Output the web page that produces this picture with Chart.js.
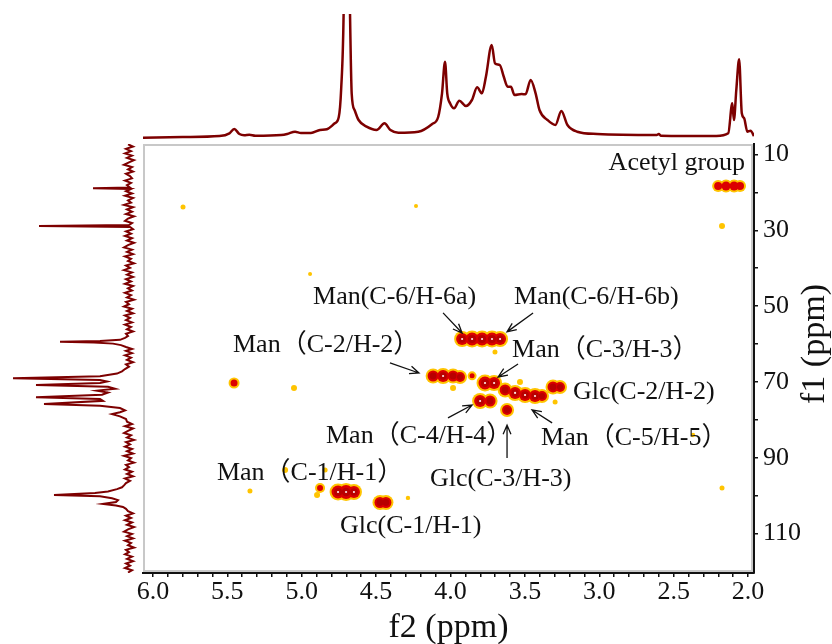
<!DOCTYPE html>
<html lang="en">
<head>
<meta charset="UTF-8">
<title>HSQC spectrum</title>
<script src="https://cdn.jsdelivr.net/npm/chart.js@4.4.1/dist/chart.umd.min.js"></script>
<style>
    body { margin: 0; background: #fff; }
    #wrap { position: relative; width: 832px; height: 644px; overflow: hidden; }
    canvas { position: absolute; }
</style>
</head>
<body>
<div id="wrap">
    <canvas id="top-chart" width="611" height="126" style="left:143px;top:14px"></canvas>
    <canvas id="side-chart" width="140" height="429" style="left:0;top:144px"></canvas>
    <canvas id="main-chart" width="832" height="644" style="left:0;top:0"></canvas>
</div>
<script>
// axis limits (ppm)
const f2Min = 1.96, f2Max = 6.067;
const f1Min = 7.23, f1Max = 120.42;

// tick values
const f2Ticks = [6.0,5.9,5.8,5.7,5.6,5.5,5.4,5.3,5.2,5.1,5.0,4.9,4.8,4.7,4.6,4.5,4.4,4.3,4.2,4.1,4.0,
                 3.9,3.8,3.7,3.6,3.5,3.4,3.3,3.2,3.1,3.0,2.9,2.8,2.7,2.6,2.5,2.4,2.3,2.2,2.1,2.0];
const f2Labels = [6.0,5.5,5.0,4.5,4.0,3.5,3.0,2.5,2.0];
const f1Ticks = [10,20,30,40,50,60,70,80,90,100,110];
const f1Labels = [10,30,50,70,90,110];

// 1H projection: [ppm, intensity]
const protonTrace = [
    [6.067,1.2],[5.80,2],[5.553,3],[5.486,5.7],[5.454,10],[5.419,5],[5.387,3.7],[5.352,4.3],[5.312,3.3],
    [5.138,4],[5.098,5],[5.045,7.3],[5.005,6],[4.938,6],[4.877,9],[4.831,9.7],[4.778,15.7],[4.751,22],
    [4.735,50],[4.718,130],[4.700,400],[4.676,130],[4.664,45],[4.645,29],[4.618,19],[4.564,12.3],
    [4.497,9],[4.444,15.7],[4.404,9],[4.351,6.3],[4.217,7.3],[4.123,15],[4.083,22],[4.057,45.7],
    [4.037,77.3],[4.022,45.7],[4.003,35.7],[3.976,30.7],[3.941,38.3],[3.896,33],[3.856,39],[3.821,51.7],
    [3.789,45.7],[3.762,62.3],[3.723,94],[3.701,75.7],[3.669,74],[3.642,62.3],[3.616,52.3],[3.594,52.3],
    [3.570,44],[3.522,45],[3.496,44.7],[3.461,59],[3.428,45.7],[3.402,29],[3.348,19],[3.295,14],
    [3.255,28],[3.214,14],[3.148,7.3],[3.014,5],[2.614,4],[2.600,5],[2.587,3.3],[2.213,3],[2.133,5.7],
    [2.106,35.7],[2.095,19],[2.079,49],[2.060,79.7],[2.042,25.7],[2.026,20.7],[2.005,7.3],[1.983,8.3],[1.96,3]
];

// 13C projection: [ppm, intensity]
const carbonTrace = [
    [7.3,2],[7.9,-3],[8.5,4],[9.1,-1],[9.7,5],[10.3,-2],[10.9,3],[11.5,-4],[12.1,1],[12.7,6],[13.3,-2],
    [13.9,2],[14.5,-3],[15.1,4],[15.7,0],[16.3,-2],[16.9,5],[17.5,-1],[18.1,3],[18.7,0],[18.9,37],[19.1,-1],
    [19.7,4],[20.3,-2],[20.9,5],[21.5,-3],[22.1,2],[22.7,-1],[23.3,6],[23.9,-3],[24.5,3],[25.1,-2],[25.7,4],
    [26.3,-4],[26.9,2],[27.5,5],[28.1,-2],[28.6,1],[28.86,91],[29.1,0],[29.7,-3],[30.3,4],[30.9,-1],[31.5,5],
    [32.1,-2],[32.7,3],[33.3,-4],[33.9,2],[34.5,6],[35.1,-2],[35.7,3],[36.3,-3],[36.9,5],[37.5,-1],[38.1,2],
    [38.7,-4],[39.3,4],[39.9,0],[40.5,6],[41.1,-2],[41.7,3],[42.3,-3],[42.9,4],[43.5,-1],[44.1,5],[44.7,-3],
    [45.3,2],[45.9,-2],[46.5,5],[47.1,-1],[47.7,3],[48.3,-4],[48.9,4],[49.5,1],[50.1,6],[50.7,-2],[51.3,3],
    [51.9,-3],[52.5,5],[53.1,0],[53.7,4],[54.3,-2],[54.9,5],[55.5,-1],[56.1,3],[56.7,-3],[57.3,4],[57.9,2],
    [58.4,5],[58.9,10],[59.2,30],[59.4,70],[59.6,36],[59.9,17],[60.3,9],[60.8,4],[61.3,-2],[61.8,4],[62.4,-2],
    [63.0,5],[63.6,-1],[64.2,3],[64.8,-3],[65.4,4],[66.0,1],[66.6,5],[67.2,8],[67.8,13],[68.5,30],[69.05,117],
    [69.5,30],[69.9,23],[70.3,30],[70.82,94],[71.3,22],[71.8,15],[72.3,33],[72.8,22],[73.4,28],[74.06,94],
    [74.5,30],[75.0,27],[75.8,86],[76.3,30],[76.9,10],[77.5,5],[78.0,10],[78.5,18],[79.1,10],[79.8,4],[80.5,3],
    [81.1,-2],[81.7,5],[82.3,-3],[82.9,2],[83.5,6],[84.1,-1],[84.7,3],[85.3,-4],[85.9,4],[86.5,0],[87.1,5],
    [87.7,-2],[88.3,3],[88.9,-3],[89.5,6],[90.1,-1],[90.7,2],[91.3,-4],[91.9,4],[92.5,1],[93.1,5],[93.7,-2],
    [94.3,3],[94.9,-3],[95.5,5],[96.1,0],[96.7,4],[97.3,6],[97.8,8],[98.3,13],[98.9,22],[99.3,35],[99.84,76],
    [100.2,30],[100.7,18],[101.2,12],[101.7,14],[102.2,27],[102.6,14],[103.0,7],[103.5,4],[104.1,2],[104.7,-3],
    [105.3,4],[105.9,-1],[106.5,5],[107.1,-2],[107.7,3],[108.3,-4],[108.9,2],[109.5,6],[110.1,-2],[110.7,3],
    [111.3,-3],[111.9,5],[112.5,-1],[113.1,2],[113.7,-4],[114.3,4],[114.9,1],[115.5,5],[116.1,-2],[116.7,3],
    [117.3,-3],[117.9,4],[118.5,0],[119.1,5],[119.7,-2],[120.3,2]
];

// HSQC cross peaks: [1H ppm, 13C ppm, intensity]
const crossPeaks = [
    // acetyl
    [2.201,18.31,4],[2.148,18.31,4.5],[2.094,18.31,4.5],[2.054,18.31,4],[2.175,28.86,2],
    // Man C-6
    [3.922,58.68,6],[3.855,58.68,6.5],[3.788,58.68,6.5],[3.721,58.68,6.5],[3.667,58.68,6],[3.701,62.1,1.5],
    // Man C-2
    [4.117,68.44,5.5],[4.050,68.44,6],[3.983,68.44,5.5],[3.936,68.7,5],[3.983,71.6,2],[3.855,68.4,2.5],
    // Man C-3
    [3.768,70.29,6.5],[3.707,70.29,6],[3.533,70.0,2],
    // Man C-5 / Glc C-3
    [3.633,72.13,5.5],[3.566,72.92,6],[3.499,73.45,6],[3.432,73.72,6],[3.385,73.72,5],
    // Glc C-2
    [3.311,71.34,5.5],[3.264,71.34,5],[3.297,75.3,1.5],
    // Man C-4
    [3.801,75.04,6],[3.734,75.04,5.5],
    [3.620,77.41,5],
    // minor
    [5.455,70.29,3.5],[5.052,71.6,2],[4.944,41.5,1],[5.798,23.85,1.5],[4.232,23.6,1],
    // Man C-1
    [4.756,99.05,6.5],[4.702,99.05,7],[4.649,99.05,6],
    [4.877,97.99,3],[4.897,99.84,2],[5.112,93.24,2],[4.843,93.24,1.5],[5.348,98.78,1.5],
    // Glc C-1
    [4.474,101.82,5.5],[4.434,101.82,5.5],[4.286,100.6,1.2],
    [2.175,97.99,1.5],[2.37,84.0,1.2]
];

// peak assignments and arrows (ppm coordinates)
const peakLabels = [
    {text: 'Acetyl group', h: 2.020, c: 12.24, align: 'right'},
    {text: 'Man(C-6/H-6a)', h: 4.924, c: 47.6},
    {text: 'Man(C-6/H-6b)', h: 3.573, c: 47.6},
    {text: 'Man\uFF08C-2/H-2\uFF09', h: 5.462, c: 60.26},
    {text: 'Man\uFF08C-3/H-3\uFF09', h: 3.586, c: 61.58},
    {text: 'Glc(C-2/H-2)', h: 3.176, c: 72.66},
    {text: 'Man\uFF08C-4/H-4\uFF09', h: 4.837, c: 84.27},
    {text: 'Man\uFF08C-5/H-5\uFF09', h: 3.391, c: 84.8},
    {text: 'Glc(C-3/H-3)', h: 4.138, c: 95.62},
    {text: 'Man\uFF08C-1/H-1\uFF09', h: 5.570, c: 94.04},
    {text: 'Glc(C-1/H-1)', h: 4.743, c: 108.0}
];
const arrows = [
    {from: [4.050, 51.8], to: [3.922, 57.1]},
    {from: [3.445, 51.8], to: [3.620, 56.8]},
    {from: [4.407, 65.0], to: [4.212, 67.65]},
    {from: [3.546, 65.27], to: [3.680, 68.7]},
    {from: [4.017, 79.5], to: [3.855, 76.1]},
    {from: [3.317, 80.8], to: [3.452, 77.4]},
    {from: [3.620, 90.1], to: [3.620, 81.4]}
];

const serif = '"Liberation Serif", "Noto Sans CJK SC", serif';
const traceColor = '#7d0000';

// contour layers built from peak intensity
function layer(minLevel, radius) {
    return crossPeaks
        .filter(p => p[2] >= minLevel)
        .map(p => ({x: p[0], y: p[1], r: radius(p[2])}));
}

const hsqcPlugin = {
    id: 'hsqcDecor',
    beforeDatasetsDraw(chart) {
        const {ctx, chartArea: a} = chart;
        ctx.save();
        ctx.strokeStyle = '#c8c8c8';
        ctx.lineWidth = 2;
        ctx.strokeRect(a.left + 1, a.top + 1, a.width - 3, a.height - 3);
        ctx.restore();
    },
    afterDraw(chart) {
        const {ctx, chartArea: a, scales: {x, y}} = chart;
        ctx.save();
        ctx.fillStyle = '#111';
        ctx.strokeStyle = '#111';
        ctx.font = '26px ' + serif;
        ctx.textBaseline = 'middle';
        peakLabels.forEach(l => {
            ctx.textAlign = l.align || 'left';
            ctx.fillText(l.text, x.getPixelForValue(l.h), y.getPixelForValue(l.c));
        });

        ctx.lineWidth = 1.3;
        arrows.forEach(ar => {
            const x0 = x.getPixelForValue(ar.from[0]), y0 = y.getPixelForValue(ar.from[1]);
            const x1 = x.getPixelForValue(ar.to[0]), y1 = y.getPixelForValue(ar.to[1]);
            const ang = Math.atan2(y1 - y0, x1 - x0);
            ctx.beginPath();
            ctx.moveTo(x0, y0);
            ctx.lineTo(x1, y1);
            ctx.moveTo(x1 - 10 * Math.cos(ang - 0.4), y1 - 10 * Math.sin(ang - 0.4));
            ctx.lineTo(x1, y1);
            ctx.lineTo(x1 - 10 * Math.cos(ang + 0.4), y1 - 10 * Math.sin(ang + 0.4));
            ctx.stroke();
        });

        // axis titles
        ctx.font = '34px ' + serif;
        ctx.textAlign = 'center';
        ctx.fillText('f2 (ppm)', (a.left + a.right) / 2, a.bottom + 55);
        ctx.translate(a.right + 61, a.top + 200);
        ctx.rotate(-Math.PI / 2);
        ctx.fillText('f1 (ppm)', 0, 0);
        ctx.restore();
    }
};

new Chart(document.getElementById('main-chart'), {
    type: 'bubble',
    data: {
        datasets: [
            {data: layer(0, v => v < 2.5 ? v + 1 : v + 2), backgroundColor: '#ffc400', borderWidth: 0, order: 4},
            {data: layer(2.5, v => v), backgroundColor: '#dc0000', borderWidth: 0, order: 3},
            {data: layer(5, v => v * 0.62), backgroundColor: '#b80000', borderWidth: 0, order: 2},
            {data: layer(6, v => 1.1), backgroundColor: '#ffe8e8', borderWidth: 0, order: 1}
        ]
    },
    options: {
        responsive: false,
        animation: false,
        events: [],
        layout: {padding: {left: 143, top: 144, right: 0, bottom: 0}},
        plugins: {legend: {display: false}, tooltip: {enabled: false}},
        scales: {
            x: {
                type: 'linear',
                position: 'bottom',
                reverse: true,
                min: f2Min,
                max: f2Max,
                afterBuildTicks: s => { s.ticks = f2Ticks.map(v => ({value: v})); },
                afterFit: s => { s.height = 71; },
                grid: {drawOnChartArea: false, tickLength: 4, color: '#111', lineWidth: 1.5},
                border: {display: true, color: '#111', width: 2},
                ticks: {
                    autoSkip: false,
                    maxRotation: 0,
                    padding: 0,
                    color: '#111',
                    font: {family: serif, size: 26},
                    callback: v => f2Labels.some(t => Math.abs(t - v) < 1e-6) ? v.toFixed(1) : ''
                }
            },
            y: {
                type: 'linear',
                position: 'right',
                reverse: true,
                min: f1Min,
                max: f1Max,
                afterBuildTicks: s => { s.ticks = f1Ticks.map(v => ({value: v})); },
                afterFit: s => { s.width = 78; },
                grid: {drawOnChartArea: false, tickLength: 4, color: '#111', lineWidth: 1.5},
                border: {display: true, color: '#111', width: 2},
                ticks: {
                    autoSkip: false,
                    padding: 5,
                    color: '#111',
                    font: {family: serif, size: 26},
                    callback: v => f1Labels.includes(v) ? String(v) : ''
                }
            }
        }
    },
    plugins: [hsqcPlugin]
});

// 1H projection on top
new Chart(document.getElementById('top-chart'), {
    type: 'scatter',
    data: {
        datasets: [{
            data: protonTrace.map(p => ({x: p[0], y: p[1]})),
            showLine: true,
            cubicInterpolationMode: 'monotone',
            borderColor: traceColor,
            borderWidth: 2.5,
            pointRadius: 0
        }]
    },
    options: {
        responsive: false,
        animation: false,
        events: [],
        layout: {padding: 0},
        plugins: {legend: {display: false}, tooltip: {enabled: false}},
        scales: {
            x: {type: 'linear', reverse: true, min: f2Min, max: f2Max, display: false},
            y: {type: 'linear', min: -1, max: 125, display: false}
        }
    }
});

// 13C projection on the left
new Chart(document.getElementById('side-chart'), {
    type: 'scatter',
    data: {
        datasets: [{
            data: carbonTrace.map(p => ({x: p[1], y: p[0]})),
            showLine: true,
            borderColor: traceColor,
            borderWidth: 2,
            pointRadius: 0
        }]
    },
    options: {
        responsive: false,
        animation: false,
        events: [],
        layout: {padding: 0},
        plugins: {legend: {display: false}, tooltip: {enabled: false}},
        scales: {
            x: {type: 'linear', reverse: true, min: -10, max: 130, display: false},
            y: {type: 'linear', reverse: true, min: f1Min, max: f1Max, display: false}
        }
    }
});
</script>
</body>
</html>
